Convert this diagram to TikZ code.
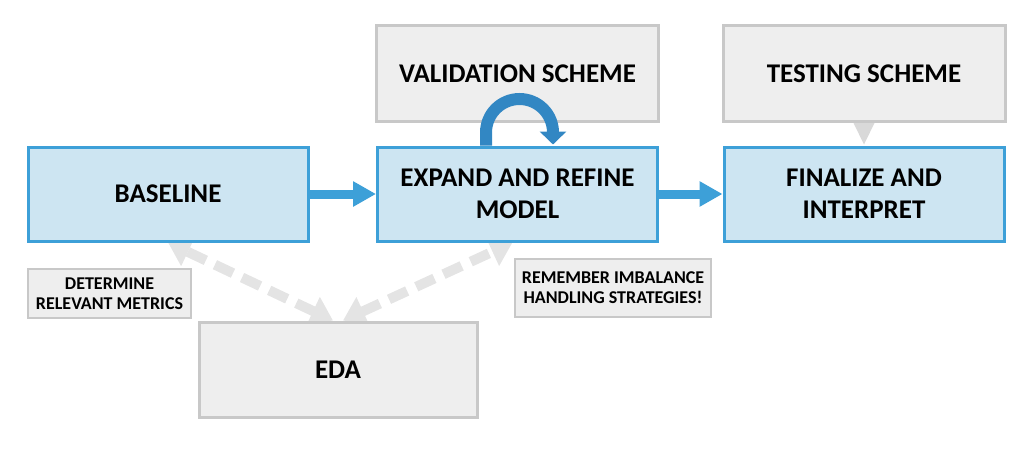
\documentclass[tikz,border=0pt]{standalone}
\usepackage{fontspec}
\setmainfont{Carlito}
\usetikzlibrary{arrows.meta,backgrounds}
\definecolor{stepblue}{RGB}{61,160,216}
\definecolor{stepfill}{RGB}{205,229,242}
\definecolor{loopblue}{RGB}{50,135,195}
\definecolor{boxfill}{RGB}{238,238,238}
\definecolor{boxline}{RGB}{200,200,200}
\definecolor{linkgray}{RGB}{228,228,228}
\definecolor{headgray}{RGB}{217,217,217}
\tikzset{
  mainbox/.style={draw=stepblue, fill=stepfill, line width=3pt, minimum width=280pt, minimum height=94pt, inner sep=0pt, align=center, font=\fontsize{27}{32}\selectfont\bfseries},
  sidebox/.style={draw=boxline, fill=boxfill, line width=3pt, minimum width=282pt, minimum height=96pt, inner sep=0pt, align=center, font=\fontsize{27}{32}\selectfont\bfseries},
  notebox/.style={draw=boxline, fill=boxfill, line width=2.5pt, inner sep=0pt, align=center, font=\fontsize{18}{20}\selectfont\bfseries},
  flow/.style={draw=stepblue, line width=9pt, -{Triangle[length=23pt,width=24pt]}},
  link/.style={draw=linkgray, line width=10pt, dash pattern=on 20pt off 10pt, {Triangle[length=22pt,width=30pt]}-{Triangle[length=22pt,width=30pt]}},
}
\begin{document}
\begin{tikzpicture}[x=1pt, y=-1pt]
  \useasboundingbox (0,0) rectangle (1033,451);
  % Etapes
  \node[sidebox] (validation) at (517.5,73.5) {VALIDATION SCHEME};
  \node[sidebox] (testing) at (864,73.5) {TESTING SCHEME};
  \node[mainbox] (baseline) at (168,194) {BASELINE};
  \node[mainbox] (expand) at (517.5,194) {EXPAND AND REFINE\\MODEL};
  \node[mainbox] (finalize) at (864,194) {FINALIZE AND\\INTERPRET};
  \node[sidebox, minimum width=278pt, minimum height=95pt] (eda) at (338,369.5) {EDA};

  % Notes
  \node[notebox, minimum width=163pt, minimum height=49pt] (metrics) at (109.5,293.5) {DETERMINE\\RELEVANT METRICS};
  \node[notebox, minimum width=196pt, minimum height=58pt] (imbalance) at (613,288) {REMEMBER IMBALANCE\\HANDLING STRATEGIES!};

  % Fleches
  \draw[flow] (baseline) -- (expand);
  \draw[flow] (expand) -- (finalize);
  \fill[headgray] ([xshift=-10.5pt]testing.south) -- ([xshift=10.5pt]testing.south) -- ([yshift=1pt]finalize.north) -- cycle;
  \draw[loopblue, line width=12pt, -{Triangle[length=13pt,width=26pt]}]
    ([xshift=-31.5pt]expand.north) -- ++(0,-13) arc[start angle=180, end angle=360, radius=33.5] -- ++(0,12);

  % Liens vers EDA
  \begin{scope}[on background layer]
    \draw[link] ([xshift=-5pt]eda.north) -- (baseline.south);
    \draw[link] ([xshift=5pt]eda.north) -- ([xshift=-5pt]expand.south);
  \end{scope}
\end{tikzpicture}
\end{document}
